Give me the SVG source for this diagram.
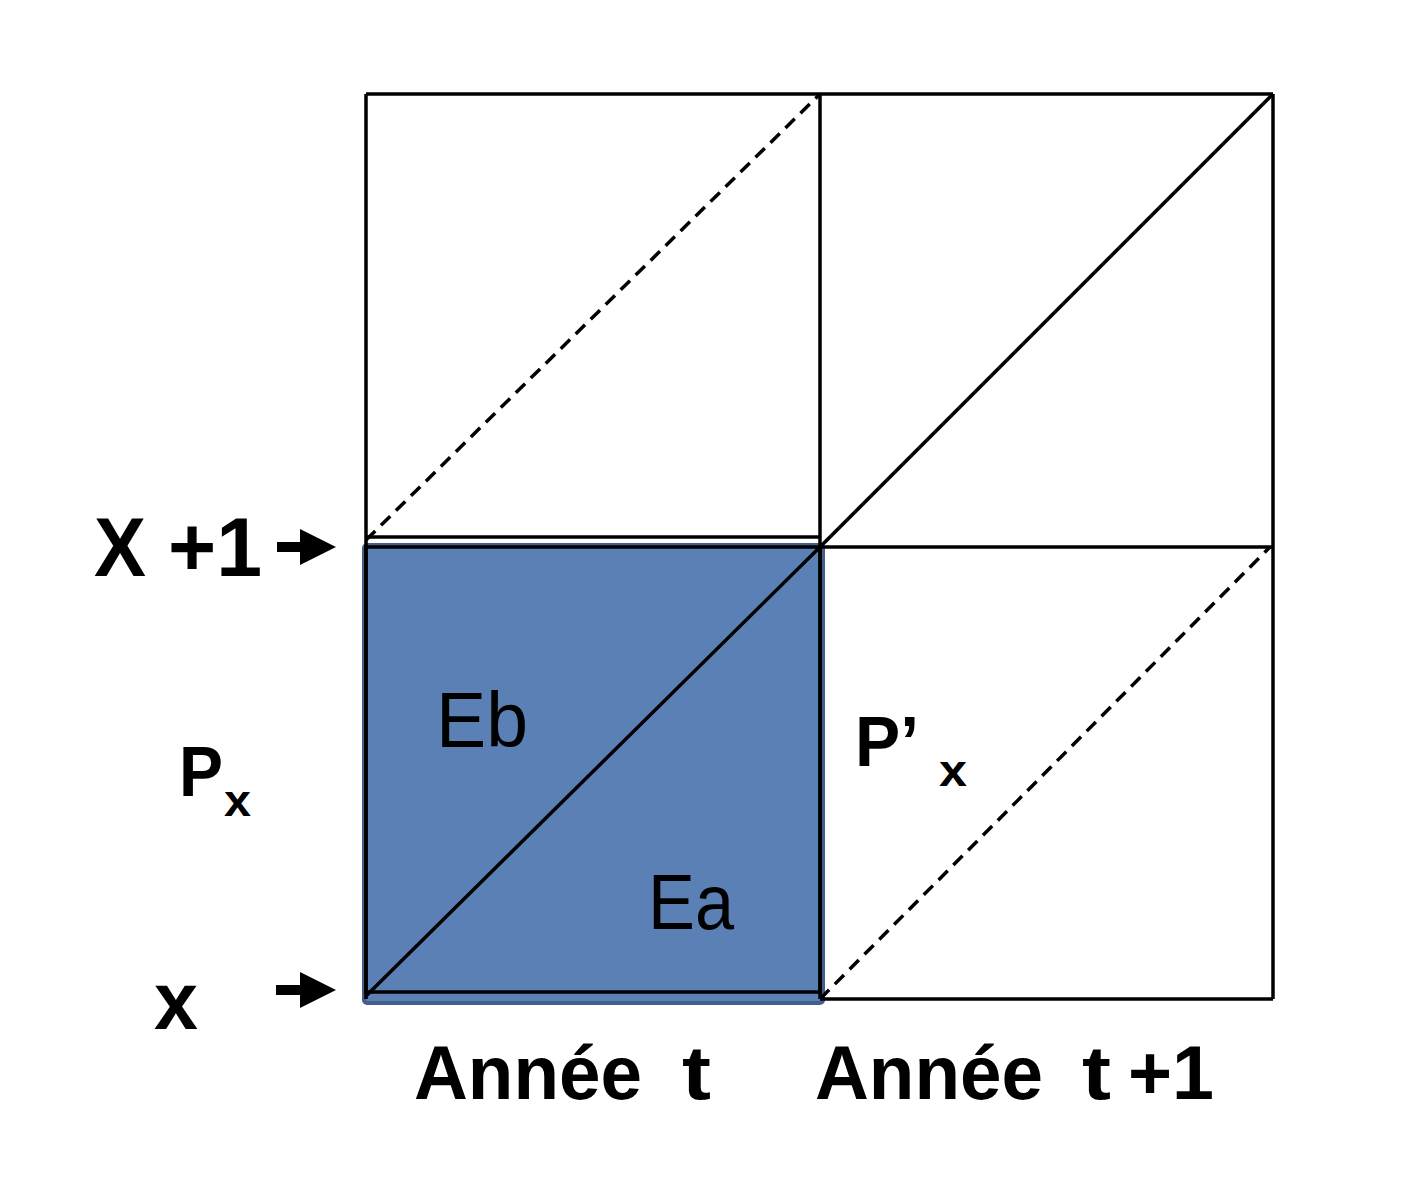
<svg xmlns="http://www.w3.org/2000/svg" width="1416" height="1190" viewBox="0 0 1416 1190">
<style>
.ln{stroke:#000;stroke-width:3.5;fill:none}
.ds{stroke:#000;stroke-width:3.5;fill:none;stroke-dasharray:13 8}
.b{font-family:"Liberation Sans",Arial,sans-serif;font-weight:bold;fill:#000}
.r{font-family:"Liberation Sans",Arial,sans-serif;fill:#000}
.ar{fill:#000}
</style>
<rect width="1416" height="1190" fill="#fff"/>
<g id="blue-square">
<rect x="364" y="545" width="459" height="458" rx="3" fill="#5B80B5" stroke="#445F8C" stroke-width="4"/>
<rect x="366" y="547" width="454" height="445" fill="none" stroke="#000" stroke-width="3.5"/>
</g>
<g id="connectors">
<line class="ln" x1="366" y1="94" x2="1273" y2="94"/>
<line class="ln" x1="366" y1="94" x2="366" y2="999"/>
<line class="ln" x1="820" y1="94" x2="820" y2="999"/>
<line class="ln" x1="1273" y1="94" x2="1273" y2="999"/>
<line class="ln" x1="366" y1="537" x2="820" y2="537"/>
<line class="ln" x1="820" y1="547" x2="1273" y2="547"/>
<line class="ln" x1="820" y1="999" x2="1273" y2="999"/>
<line class="ds" x1="366" y1="540" x2="820" y2="94"/>
<line class="ln" x1="820" y1="547" x2="1273" y2="94"/>
<line class="ln" x1="366" y1="996" x2="820" y2="547"/>
<line class="ds" x1="820" y1="999" x2="1270" y2="547"/>
<path class="ar" d="M277,542 H300 V529 L336,547 L300,565 V552 H277 Z"/>
<path class="ar" d="M276,985 H300 V972 L336,990 L300,1008 V995 H276 Z"/>
</g>
<g id="labels">
<text class="b" x="94" y="576" font-size="84" textLength="52" lengthAdjust="spacingAndGlyphs">X</text>
<text class="b" x="168" y="576" font-size="84" textLength="94" lengthAdjust="spacingAndGlyphs">+1</text>
<text class="b" x="154" y="1029" font-size="82" textLength="44" lengthAdjust="spacingAndGlyphs">x</text>
<text class="b" x="179" y="796" font-size="70" textLength="44" lengthAdjust="spacingAndGlyphs">P</text>
<text class="b" x="224" y="816" font-size="44" textLength="27" lengthAdjust="spacingAndGlyphs">x</text>
<text class="r" x="436" y="747" font-size="78" textLength="92" lengthAdjust="spacingAndGlyphs">Eb</text>
<text class="r" x="648" y="929" font-size="78" textLength="86" lengthAdjust="spacingAndGlyphs">Ea</text>
<text class="b" x="855" y="766" font-size="70" textLength="64" lengthAdjust="spacingAndGlyphs">P’</text>
<text class="b" x="939" y="786" font-size="44" textLength="28" lengthAdjust="spacingAndGlyphs">x</text>
<text class="b" x="414" y="1099" font-size="76" textLength="228" lengthAdjust="spacingAndGlyphs">Année</text>
<text class="b" x="682" y="1099" font-size="76" textLength="29" lengthAdjust="spacingAndGlyphs">t</text>
<text class="b" x="815" y="1099" font-size="76" textLength="228" lengthAdjust="spacingAndGlyphs">Année</text>
<text class="b" x="1082" y="1099" font-size="76" textLength="29" lengthAdjust="spacingAndGlyphs">t</text>
<text class="b" x="1128" y="1099" font-size="76" textLength="86" lengthAdjust="spacingAndGlyphs">+1</text>
</g>
</svg>
